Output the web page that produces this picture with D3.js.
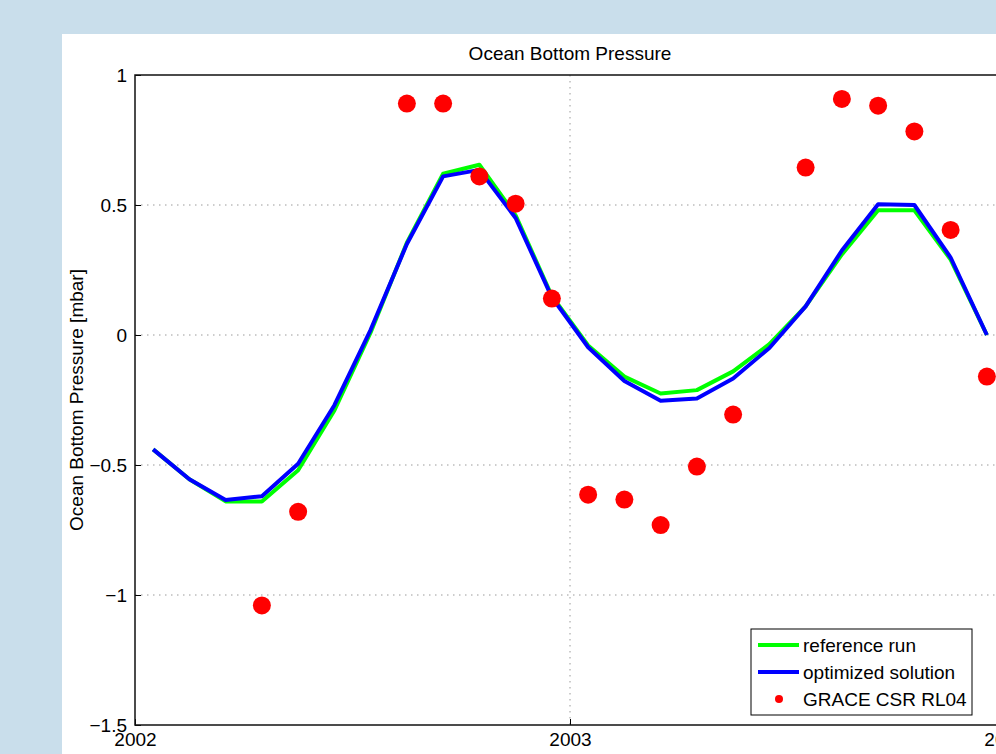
<!DOCTYPE html>
<html>
<head>
<meta charset="utf-8">
<script src="https://cdn.jsdelivr.net/npm/d3@7"></script>
<style>
  html, body { margin: 0; padding: 0; background: #c9deeb; overflow: hidden; }
  svg { display: block; font-family: "Liberation Sans", Arial, sans-serif; }
</style>
</head>
<body>
<div id="chart"></div>
<script>
// monthly values, plotted at mid-month
var months = ['2002-01', '2002-02', '2002-03', '2002-04', '2002-05', '2002-06',
  '2002-07', '2002-08', '2002-09', '2002-10', '2002-11', '2002-12',
  '2003-01', '2003-02', '2003-03', '2003-04', '2003-05', '2003-06',
  '2003-07', '2003-08', '2003-09', '2003-10', '2003-11', '2003-12'];

var referenceRun = [-0.44, -0.555, -0.64, -0.64, -0.52, -0.29, 0.01, 0.355, 0.62, 0.655, 0.46, 0.15,
  -0.04, -0.16, -0.225, -0.212, -0.14, -0.035, 0.11, 0.31, 0.48, 0.48, 0.29, 0.0];

var optimizedSolution = [-0.44, -0.555, -0.635, -0.62, -0.495, -0.27, 0.02, 0.35, 0.61, 0.635, 0.45, 0.145,
  -0.047, -0.177, -0.253, -0.244, -0.167, -0.05, 0.11, 0.325, 0.503, 0.5, 0.298, 0.0];

var graceCsr = [null, null, null, -1.04, -0.68, null, null, 0.89, 0.89, 0.61, 0.505, 0.14,
  -0.614, -0.633, -0.731, -0.506, -0.306, null, 0.644, 0.908, 0.882, 0.783, 0.404, -0.16];

var yTicks = [-1.5, -1, -0.5, 0, 0.5, 1];
var xTicks = [2002, 2003, 2004];

var width = 996;
var height = 754;
var margin = {
  top: 75,
  right: -9,
  bottom: 29,
  left: 135
};
var fontSize = '19px';

var svg = d3.select('#chart').append('svg')
  .attr('width', width)
  .attr('height', height);

svg.append('rect')
  .attr('width', width)
  .attr('height', height)
  .style('fill', '#c9deeb');

svg.append('rect')
  .attr('x', 62)
  .attr('y', 34)
  .attr('width', width - 62)
  .attr('height', height - 34)
  .style('fill', 'white');

var x = d3.scaleLinear()
  .domain([2002, 2004])
  .range([margin.left, width - margin.right]);

var y = d3.scaleLinear()
  .domain([-1.5, 1])
  .range([height - margin.bottom, margin.top]);

function monthX(m) {
  var parts = m.split('-');
  return x(+parts[0] + (+parts[1] - 0.5) / 12);
}

var plot = svg.append('g');

// dotted grid
plot.selectAll('.hgrid')
  .data(yTicks.filter(function (d) { return d > -1.5 && d < 1; }))
  .enter()
  .append('line')
  .attr('class', 'hgrid')
  .attr('x1', x(2002))
  .attr('x2', x(2004))
  .attr('y1', function (d) { return y(d); })
  .attr('y2', function (d) { return y(d); })
  .style('stroke', '#9a9a9a')
  .style('stroke-width', 1)
  .style('stroke-dasharray', '1.5,4.5');

plot.selectAll('.vgrid')
  .data([2003])
  .enter()
  .append('line')
  .attr('class', 'vgrid')
  .attr('x1', function (d) { return x(d); })
  .attr('x2', function (d) { return x(d); })
  .attr('y1', y(1))
  .attr('y2', y(-1.5))
  .style('stroke', '#9a9a9a')
  .style('stroke-width', 1)
  .style('stroke-dasharray', '1.5,4.5');

var line = d3.line()
  .x(function (d) { return monthX(d.m); })
  .y(function (d) { return y(d.v); });

function series(values) {
  return months.map(function (m, i) {
    return {m: m, v: values[i]};
  });
}

plot.append('path')
  .datum(series(referenceRun))
  .attr('d', line)
  .style('fill', 'none')
  .style('stroke', '#00ff00')
  .style('stroke-width', 4)
  .style('stroke-linejoin', 'round');

plot.append('path')
  .datum(series(optimizedSolution))
  .attr('d', line)
  .style('fill', 'none')
  .style('stroke', '#0000ff')
  .style('stroke-width', 4)
  .style('stroke-linejoin', 'round');

plot.selectAll('.grace')
  .data(series(graceCsr).filter(function (d) { return d.v !== null; }))
  .enter()
  .append('circle')
  .attr('class', 'grace')
  .attr('cx', function (d) { return monthX(d.m); })
  .attr('cy', function (d) { return y(d.v); })
  .attr('r', 9)
  .style('fill', '#ff0000');

// axes box, matlab style with inward ticks
var axisStyle = function (g) {
  g.select('.domain').remove();
  g.selectAll('.tick line').style('stroke', '#000');
  g.selectAll('.tick text')
    .style('font-size', fontSize)
    .style('fill', '#000')
    .style('font-family', '"Liberation Sans", Arial, sans-serif');
};

svg.append('g')
  .attr('transform', 'translate(' + margin.left + ',0)')
  .call(d3.axisLeft(y)
    .tickValues(yTicks)
    .tickSize(-6)
    .tickPadding(8)
    .tickFormat(function (d) { return d3.format('')(d).replace('-', '\u2212'); }))
  .call(axisStyle);

svg.append('g')
  .attr('transform', 'translate(0,' + (height - margin.bottom) + ')')
  .call(d3.axisBottom(x)
    .tickValues(xTicks)
    .tickSize(-6)
    .tickPadding(8)
    .tickFormat(d3.format('d')))
  .call(axisStyle);

svg.append('rect')
  .attr('x', x(2002))
  .attr('y', y(1))
  .attr('width', x(2004) - x(2002))
  .attr('height', y(-1.5) - y(1))
  .style('fill', 'none')
  .style('stroke', '#111')
  .style('stroke-width', 1.5);

svg.append('text')
  .attr('x', x(2003))
  .attr('y', 60)
  .attr('text-anchor', 'middle')
  .style('font-size', fontSize)
  .text('Ocean Bottom Pressure');

svg.append('text')
  .attr('transform', 'translate(83,' + ((y(1) + y(-1.5)) / 2) + ') rotate(-90)')
  .attr('text-anchor', 'middle')
  .style('font-size', fontSize)
  .text('Ocean Bottom Pressure [mbar]');

svg.append('text')
  .attr('x', x(2003))
  .attr('y', 767)
  .attr('text-anchor', 'middle')
  .style('font-size', fontSize)
  .text('Year');

// legend
var legendItems = [
  {label: 'reference run', color: '#00ff00', type: 'line'},
  {label: 'optimized solution', color: '#0000ff', type: 'line'},
  {label: 'GRACE CSR RL04', color: '#ff0000', type: 'dot'}
];

var legend = svg.append('g')
  .attr('transform', 'translate(751,629)');

legend.append('rect')
  .attr('width', 221)
  .attr('height', 86)
  .style('fill', 'white')
  .style('stroke', '#000')
  .style('stroke-width', 1);

var item = legend.selectAll('.item')
  .data(legendItems)
  .enter()
  .append('g')
  .attr('class', 'item')
  .attr('transform', function (d, i) { return 'translate(0,' + (16 + i * 27) + ')'; });

item.filter(function (d) { return d.type === 'line'; })
  .append('line')
  .attr('x1', 7)
  .attr('x2', 48)
  .style('stroke', function (d) { return d.color; })
  .style('stroke-width', 4);

item.filter(function (d) { return d.type === 'dot'; })
  .append('circle')
  .attr('cx', 28)
  .attr('r', 4)
  .style('fill', function (d) { return d.color; });

item.append('text')
  .attr('x', 52)
  .attr('dy', '0.35em')
  .style('font-size', fontSize)
  .text(function (d) { return d.label; });
</script>
</body>
</html>
